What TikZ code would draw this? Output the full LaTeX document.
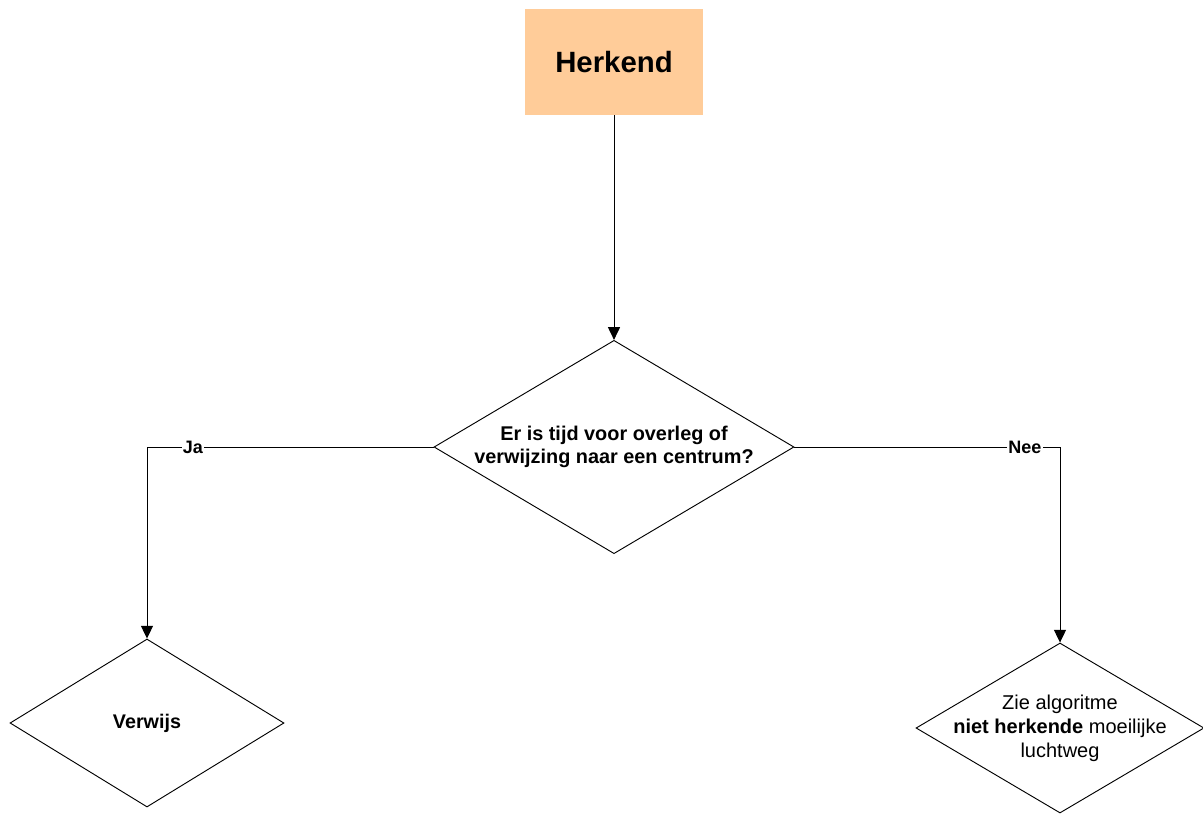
\documentclass[tikz,border=0pt]{standalone}
\usepackage{fontspec}
\setmainfont{Liberation Sans}
\usetikzlibrary{shapes.geometric,arrows.meta}
\definecolor{peach}{HTML}{FFCC99}
\begin{document}
\begin{tikzpicture}[x=0.75pt,y=-0.75pt,
  conn/.style={draw=black,line width=0.7pt},
  arr/.style={conn,-{Triangle[length=9.5pt,width=9pt]}},
  decision/.style={diamond,draw=black,line width=0.7pt,inner sep=0pt,fill=white},
  dtext/.style={align=center,inner sep=0pt},
  lbl/.style={fill=white,inner sep=1pt,font=\fontsize{13.5}{15}\selectfont\bfseries}]
\useasboundingbox (0,0) rectangle (1203,815);
\node[rectangle,fill=peach,minimum width=133.5pt,minimum height=79.5pt,inner sep=0pt,
  font=\fontsize{22}{26}\selectfont\bfseries] (herkend) at (614,62) {Herkend};
\node[decision,minimum width=270pt,minimum height=160pt,
  label={[dtext,font=\fontsize{14.9}{17.25}\selectfont\bfseries]center:Er is tijd voor overleg of\\verwijzing naar een centrum?}] (q) at (614,447) {};
\node[decision,minimum width=205.5pt,minimum height=126pt,
  label={[dtext,font=\fontsize{14.8}{17.25}\selectfont\bfseries]center:Verwijs}] (verwijs) at (147,723) {};
\node[decision,minimum width=216pt,minimum height=127.5pt,
  label={[dtext,font=\fontsize{15}{18}\selectfont]center:Zie algoritme\\\textbf{niet herkende} moeilijke\\luchtweg}] (zie) at (1060,728) {};
\draw[arr] (herkend.south) -- (q.north);
\draw[arr] (q.west) -| node[lbl,pos=0.42] {Ja} (verwijs.north);
\draw[arr] (q.east) -| node[lbl,pos=0.434] {Nee} (zie.north);
\end{tikzpicture}
\end{document}
